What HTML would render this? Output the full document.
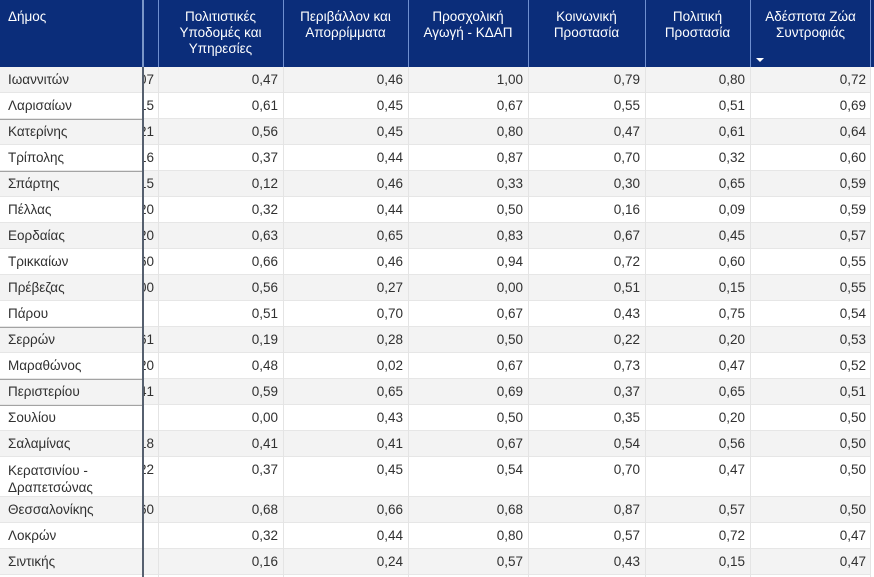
<!DOCTYPE html>
<html><head><meta charset="utf-8">
<style>
html,body{margin:0;padding:0;background:#fff;}
body{width:874px;height:577px;position:relative;overflow:hidden;font-family:"Liberation Sans","Noto Sans CJK SC",sans-serif;font-size:13.5px;color:#303030;}
.hd{position:absolute;left:0;top:0;width:874px;height:67px;background:#0b2d7a;}
.ht{position:absolute;top:9px;color:#fff;line-height:16px;text-align:center;white-space:nowrap;}
.hv{position:absolute;top:0;height:67px;width:1px;background:#6f8fd0;}
.r{position:absolute;left:0;width:871px;height:26px;border-bottom:1px solid #e6e6e6;box-sizing:border-box;}
.g{background:#f3f3f3;}
.w{background:#fff;}
.c{position:absolute;top:0;line-height:26px;text-align:right;white-space:nowrap;}
.n{position:absolute;left:8px;top:0;line-height:26px;white-space:nowrap;}
.hc{position:absolute;left:144px;width:14px;top:0;height:26px;overflow:hidden;}
.hc span{position:absolute;right:4px;top:0;line-height:26px;white-space:nowrap;}
.c1{left:158px;width:120px;}
.c2{left:283px;width:120px;}
.c3{left:408px;width:115px;}
.c4{left:528px;width:112px;}
.c5{left:645px;width:100px;}
.c6{left:750px;width:116px;}
.bv{position:absolute;top:67px;height:510px;width:1px;background:#e4e4e4;}
.dl{position:absolute;left:0;width:142px;height:1px;background:#a3a3a3;}
</style></head><body>
<div class="hd"></div>
<div class="ht" style="left:8px;text-align:left;">Δήμος</div>
<div class="ht" style="left:158px;width:125px;">Πολιτιστικές<br>Υποδομές και<br>Υπηρεσίες</div>
<div class="ht" style="left:283px;width:125px;">Περιβάλλον και<br>Απορρίμματα</div>
<div class="ht" style="left:408px;width:120px;">Προσχολική<br>Αγωγή - ΚΔΑΠ</div>
<div class="ht" style="left:528px;width:117px;">Κοινωνική<br>Προστασία</div>
<div class="ht" style="left:645px;width:105px;">Πολιτική<br>Προστασία</div>
<div class="ht" style="left:750px;width:121px;">Αδέσποτα Ζώα<br>Συντροφιάς</div>
<div style="position:absolute;left:756px;top:58px;width:0;height:0;border-left:4px solid transparent;border-right:4px solid transparent;border-top:4px solid #fff;"></div>
<div class="hv" style="left:158px"></div>
<div class="hv" style="left:283px"></div>
<div class="hv" style="left:408px"></div>
<div class="hv" style="left:528px"></div>
<div class="hv" style="left:645px"></div>
<div class="hv" style="left:750px"></div>
<div class="hv" style="left:870px"></div>

<div class="r g" style="top:67px"><div class="n">Ιωαννιτών</div><div class="hc"><span>0,07</span></div><div class="c c1">0,47</div><div class="c c2">0,46</div><div class="c c3">1,00</div><div class="c c4">0,79</div><div class="c c5">0,80</div><div class="c c6">0,72</div></div>
<div class="r w" style="top:93px"><div class="n">Λαρισαίων</div><div class="hc"><span>0,15</span></div><div class="c c1">0,61</div><div class="c c2">0,45</div><div class="c c3">0,67</div><div class="c c4">0,55</div><div class="c c5">0,51</div><div class="c c6">0,69</div></div>
<div class="r g" style="top:119px"><div class="n">Κατερίνης</div><div class="hc"><span>0,21</span></div><div class="c c1">0,56</div><div class="c c2">0,45</div><div class="c c3">0,80</div><div class="c c4">0,47</div><div class="c c5">0,61</div><div class="c c6">0,64</div></div>
<div class="r w" style="top:145px"><div class="n">Τρίπολης</div><div class="hc"><span>0,16</span></div><div class="c c1">0,37</div><div class="c c2">0,44</div><div class="c c3">0,87</div><div class="c c4">0,70</div><div class="c c5">0,32</div><div class="c c6">0,60</div></div>
<div class="r g" style="top:171px"><div class="n">Σπάρτης</div><div class="hc"><span>0,15</span></div><div class="c c1">0,12</div><div class="c c2">0,46</div><div class="c c3">0,33</div><div class="c c4">0,30</div><div class="c c5">0,65</div><div class="c c6">0,59</div></div>
<div class="r w" style="top:197px"><div class="n">Πέλλας</div><div class="hc"><span>0,20</span></div><div class="c c1">0,32</div><div class="c c2">0,44</div><div class="c c3">0,50</div><div class="c c4">0,16</div><div class="c c5">0,09</div><div class="c c6">0,59</div></div>
<div class="r g" style="top:223px"><div class="n">Εορδαίας</div><div class="hc"><span>0,20</span></div><div class="c c1">0,63</div><div class="c c2">0,65</div><div class="c c3">0,83</div><div class="c c4">0,67</div><div class="c c5">0,45</div><div class="c c6">0,57</div></div>
<div class="r w" style="top:249px"><div class="n">Τρικκαίων</div><div class="hc"><span>0,60</span></div><div class="c c1">0,66</div><div class="c c2">0,46</div><div class="c c3">0,94</div><div class="c c4">0,72</div><div class="c c5">0,60</div><div class="c c6">0,55</div></div>
<div class="r g" style="top:275px"><div class="n">Πρέβεζας</div><div class="hc"><span>0,00</span></div><div class="c c1">0,56</div><div class="c c2">0,27</div><div class="c c3">0,00</div><div class="c c4">0,51</div><div class="c c5">0,15</div><div class="c c6">0,55</div></div>
<div class="r w" style="top:301px"><div class="n">Πάρου</div><div class="c c1">0,51</div><div class="c c2">0,70</div><div class="c c3">0,67</div><div class="c c4">0,43</div><div class="c c5">0,75</div><div class="c c6">0,54</div></div>
<div class="r g" style="top:327px"><div class="n">Σερρών</div><div class="hc"><span>0,61</span></div><div class="c c1">0,19</div><div class="c c2">0,28</div><div class="c c3">0,50</div><div class="c c4">0,22</div><div class="c c5">0,20</div><div class="c c6">0,53</div></div>
<div class="r w" style="top:353px"><div class="n">Μαραθώνος</div><div class="hc"><span>0,20</span></div><div class="c c1">0,48</div><div class="c c2">0,02</div><div class="c c3">0,67</div><div class="c c4">0,73</div><div class="c c5">0,47</div><div class="c c6">0,52</div></div>
<div class="r g" style="top:379px"><div class="n">Περιστερίου</div><div class="hc"><span>0,41</span></div><div class="c c1">0,59</div><div class="c c2">0,65</div><div class="c c3">0,69</div><div class="c c4">0,37</div><div class="c c5">0,65</div><div class="c c6">0,51</div></div>
<div class="r w" style="top:405px"><div class="n">Σουλίου</div><div class="c c1">0,00</div><div class="c c2">0,43</div><div class="c c3">0,50</div><div class="c c4">0,35</div><div class="c c5">0,20</div><div class="c c6">0,50</div></div>
<div class="r g" style="top:431px"><div class="n">Σαλαμίνας</div><div class="hc"><span>0,18</span></div><div class="c c1">0,41</div><div class="c c2">0,41</div><div class="c c3">0,67</div><div class="c c4">0,54</div><div class="c c5">0,56</div><div class="c c6">0,50</div></div>
<div class="r w" style="top:457px;height:40px;"><div class="n" style="line-height:17px;top:4.5px;">Κερατσινίου -<br>Δραπετσώνας</div><div class="hc"><span>0,22</span></div><div class="c c1">0,37</div><div class="c c2">0,45</div><div class="c c3">0,54</div><div class="c c4">0,70</div><div class="c c5">0,47</div><div class="c c6">0,50</div></div>
<div class="r g" style="top:497px"><div class="n">Θεσσαλονίκης</div><div class="hc"><span>0,60</span></div><div class="c c1">0,68</div><div class="c c2">0,66</div><div class="c c3">0,68</div><div class="c c4">0,87</div><div class="c c5">0,57</div><div class="c c6">0,50</div></div>
<div class="r w" style="top:523px"><div class="n">Λοκρών</div><div class="c c1">0,32</div><div class="c c2">0,44</div><div class="c c3">0,80</div><div class="c c4">0,57</div><div class="c c5">0,72</div><div class="c c6">0,47</div></div>
<div class="r g" style="top:549px"><div class="n">Σιντικής</div><div class="c c1">0,16</div><div class="c c2">0,24</div><div class="c c3">0,57</div><div class="c c4">0,43</div><div class="c c5">0,15</div><div class="c c6">0,47</div></div>

<div class="bv" style="left:158px"></div>
<div class="bv" style="left:283px"></div>
<div class="bv" style="left:408px"></div>
<div class="bv" style="left:528px"></div>
<div class="bv" style="left:645px"></div>
<div class="bv" style="left:750px"></div>
<div class="bv" style="left:870px"></div>

<div class="dl" style="top:119px"></div>
<div class="dl" style="top:171px"></div>
<div class="dl" style="top:327px"></div>
<div class="dl" style="top:379px"></div>
<div class="dl" style="top:405px"></div>

<div style="position:absolute;left:142px;top:0;width:2px;height:67px;background:#7a96c8;"></div>
<div style="position:absolute;left:142px;top:67px;width:2px;height:510px;background:#56606f;"></div>
</body></html>
